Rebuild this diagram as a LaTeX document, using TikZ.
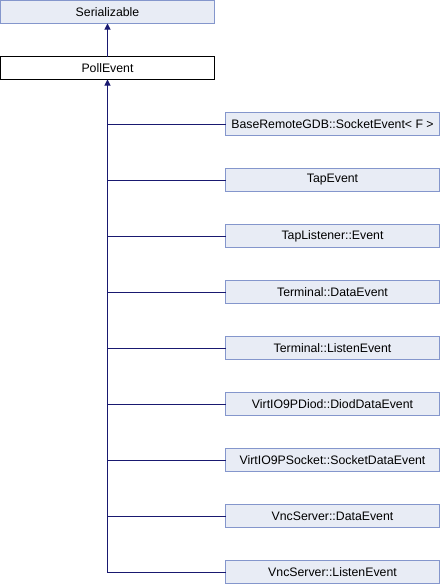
\documentclass[tikz,border=0pt]{standalone}
\usepackage{fontspec}
\setmainfont{Liberation Sans}
\usepackage{xcolor}
\usepackage{tikz}
\usetikzlibrary{arrows.meta, positioning}

\definecolor{classfill}{HTML}{E8ECF5}
\definecolor{classdraw}{HTML}{8496CC}
\definecolor{edgeblue}{HTML}{191970}

\begin{document}
\begin{tikzpicture}[
    x=1pt, y=-1pt,
    node distance=33pt,
    font=\fontsize{12.3}{14}\selectfont,
    cls/.style={rectangle, draw=classdraw, fill=classfill, line width=1pt, minimum width=214pt, minimum height=23pt, inner sep=0pt, outer sep=0pt, text centered},
    current/.style={cls, draw=black, fill=white},
    link/.style={draw=edgeblue, line width=1pt},
    arrow/.style={link, -{Triangle[length=6pt, width=6pt]}}
]
\useasboundingbox (0,0) rectangle (440,584);

% Base classes
\node[cls, anchor=north west] (ser) at (0.5,0.5) {Serializable};
\node[current, below=of ser] (poll) {PollEvent};

% Derived classes
\node[cls, below right=33pt and 11pt of poll] (sock) {BaseRemoteGDB::SocketEvent\textless{} F \textgreater};
\node[cls, below=of sock] (tap) {TapEvent};
\node[cls, below=of tap] (taplis) {TapListener::Event};
\node[cls, below=of taplis] (termdata) {Terminal::DataEvent};
\node[cls, below=of termdata] (termlis) {Terminal::ListenEvent};
\node[cls, below=of termlis] (diod) {VirtIO9PDiod::DiodDataEvent};
\node[cls, below=of diod] (vsock) {VirtIO9PSocket::SocketDataEvent};
\node[cls, below=of vsock] (vncdata) {VncServer::DataEvent};
\node[cls, below=of vncdata] (vnclis) {VncServer::ListenEvent};

% Arrows
\draw[arrow] (poll) -- (ser);
\draw[arrow] (vnclis.west) -| (poll.south);
\draw[link] (sock.west) -- (sock.west -| poll.south);
\draw[link] (tap.west) -- (tap.west -| poll.south);
\draw[link] (taplis.west) -- (taplis.west -| poll.south);
\draw[link] (termdata.west) -- (termdata.west -| poll.south);
\draw[link] (termlis.west) -- (termlis.west -| poll.south);
\draw[link] (diod.west) -- (diod.west -| poll.south);
\draw[link] (vsock.west) -- (vsock.west -| poll.south);
\draw[link] (vncdata.west) -- (vncdata.west -| poll.south);

\end{tikzpicture}
\end{document}
